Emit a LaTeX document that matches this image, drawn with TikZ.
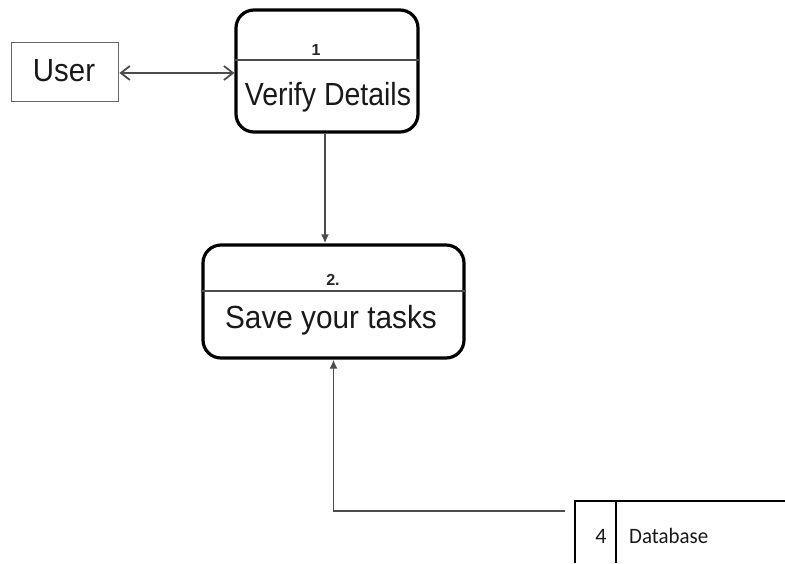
\documentclass[tikz,border=0pt]{standalone}
\usepackage{fontspec}
\setmainfont{Liberation Sans}
\newfontfamily\dbfont{Carlito}
\usetikzlibrary{arrows.meta}
\begin{document}
\begin{tikzpicture}[x=1pt,y=-1pt,
  procbox/.style={draw=black, line width=3.2pt, rounded corners=18pt, inner sep=0pt},
  userbox/.style={draw=black!60, line width=1.8pt, inner sep=0pt, minimum width=107pt, minimum height=59pt},
  divline/.style={draw=black!70, line width=2pt},
  conn/.style={draw=black!70, line width=1.8pt},
  bigtext/.style={font=\fontsize{32}{36}\selectfont, text=black!90, inner sep=0pt},
  numtext/.style={font=\fontsize{16}{18}\selectfont\bfseries, text=black!85, inner sep=0pt},
  dbtext/.style={font=\dbfont\fontsize{22}{26}\selectfont, text=black!90, inner sep=0pt},
  dbline/.style={draw=black, line width=2.8pt}]
\useasboundingbox (0,0) rectangle (785,563);
% User
\node[userbox] (user) at (65,72) {};
\node[bigtext] (usert) at (64,71) {\scalebox{0.92}[1]{User}};
% Process 1
\node[procbox, minimum width=182pt, minimum height=122pt] (p1) at (327,71) {};
\draw[divline] (p1.west |- 0,60) -- (p1.east |- 0,60);
\node[numtext] (n1) at (316,50) {1};
\node[bigtext] (t1) at (328,97) {\scalebox{0.89}[1]{Verify Details}};
% Process 2
\node[procbox, minimum width=261pt, minimum height=113pt] (p2) at (333.5,301.5) {};
\draw[divline] (p2.west |- 0,291) -- (p2.east |- 0,291);
\node[numtext] (n2) at (333,280) {2.};
\node[bigtext] (t2) at (331,320) {\scalebox{0.93}[1]{Save your tasks}};
% Connectors
\draw[conn, {Straight Barb[length=9pt,width=14pt,line width=1.8pt]}-{Straight Barb[length=9pt,width=14pt,line width=1.8pt]}] (user.east |- 0,73) -- (p1.west |- 0,73);
\draw[conn, -{Latex[length=9pt,width=8pt]}] ([xshift=-2pt]p1.south) -- ([xshift=-2pt]p1.south |- p2.north);
% Database store
\draw[dbline] (785,501) -- (575,501) -- (575,563);
\draw[dbline] (616,501) -- (616,563);
\node[dbtext] (d4) at (601,536) {4};
\node[dbtext, anchor=west] (db) at (629,536) {\scalebox{0.95}[1]{Database}};
\coordinate (dbin) at (565,511);
\draw[conn, -{Latex[length=9pt,width=8pt]}] (dbin) -| (p2.south);
\end{tikzpicture}
\end{document}
